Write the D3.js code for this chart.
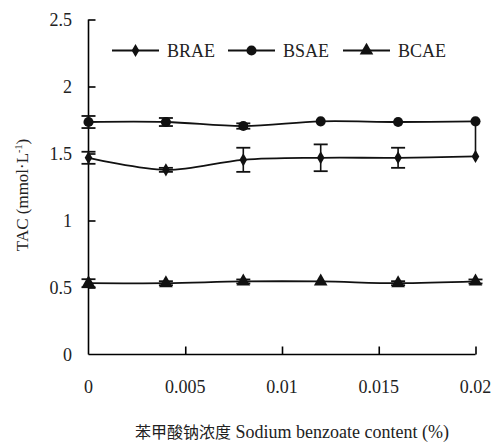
<!DOCTYPE html>
<html><head><meta charset="utf-8">
<script src="https://cdn.jsdelivr.net/npm/d3@7"></script>
<style>body{margin:0;background:#fff}svg{display:block}
.serif{font-family:"Liberation Serif","DejaVu Serif","Times New Roman",serif}
.cjk{font-family:"Noto Sans CJK SC",sans-serif}
</style>
</head><body>
<svg id="c" width="494" height="443"></svg>
<script>
const xValues = [0, 0.004, 0.008, 0.012, 0.016, 0.02];
const seriesNames = ["BRAE", "BSAE", "BCAE"];
const braeValues = [1.468, 1.378, 1.453, 1.468, 1.468, 1.478];
const braeErrUp   = [0.045, 0.015, 0.09, 0.10, 0.075, 0.26];
const braeErrDown = [0.045, 0.015, 0.09, 0.10, 0.075, 0.01];
const bsaeValues = [1.735, 1.735, 1.705, 1.74, 1.735, 1.74];
const bsaeErr    = [0.045, 0.03, 0.02, 0.01, 0.01, 0.01];
const bcaeValues = [0.532, 0.532, 0.545, 0.545, 0.532, 0.545];
const bcaeErr    = [0.03, 0.015, 0.015, 0.005, 0.015, 0.015];
const xTicks = [0, 0.005, 0.01, 0.015, 0.02];
const xTickLabels = ["0", "0.005", "0.01", "0.015", "0.02"];
const yTicks = [0, 0.5, 1, 1.5, 2, 2.5];
const yTickLabels = ["0", "0.5", "1", "1.5", "2", "2.5"];

const svg = d3.select("#c");
const x = d3.scaleLinear().domain([0, 0.02]).range([88.5, 475.5]);
const y = d3.scaleLinear().domain([0, 2.5]).range([354.5, 19.5]);

// axes
const xAxis = d3.axisBottom(x).tickValues(xTicks).tickSize(-8).tickFormat(() => "");
const gx = svg.append("g").attr("transform", "translate(0,354.5)").call(xAxis);
gx.select(".domain").attr("d", `M${x(0)},0H${x(0.02)}`).attr("stroke-width", 1.6);
gx.selectAll(".tick line").attr("stroke-width", 1.6);
gx.selectAll(".tick").filter(d => d === 0).remove();

const yAxis = d3.axisLeft(y).tickValues(yTicks).tickSize(-7).tickFormat(() => "");
const gy = svg.append("g").attr("transform", "translate(88.5,0)").call(yAxis);
gy.select(".domain").attr("d", `M0,${y(2.5)}V${y(0)}`).attr("stroke-width", 1.6);
gy.selectAll(".tick line").attr("stroke-width", 1.6);
gy.selectAll(".tick").filter(d => d === 0).select("line").remove();

// tick labels
svg.append("g").selectAll("text").data(xTicks).join("text").attr("class", "serif")
  .attr("x", d => x(d)).attr("y", 393).attr("text-anchor", "middle")
  .attr("font-size", 18).attr("fill", "#222")
  .text((d, i) => xTickLabels[i]);
svg.append("g").selectAll("text").data(yTicks).join("text").attr("class", "serif")
  .attr("x", 72).attr("y", d => y(d) + 6).attr("text-anchor", "end")
  .attr("font-size", 18).attr("fill", "#222")
  .text((d, i) => yTickLabels[i]);

// axis titles
const yl = svg.append("text").attr("class", "serif").attr("transform", "translate(28,195) rotate(-90)")
  .attr("text-anchor", "middle").attr("font-size", 17).attr("fill", "#222");
yl.append("tspan").text("TAC (mmol·L");
yl.append("tspan").attr("font-size", 10).attr("dy", -6).text("-1");
yl.append("tspan").attr("dy", 6).text(")");

const xl = svg.append("text").attr("x", 292).attr("y", 438).attr("text-anchor", "middle")
  .attr("font-size", 18).attr("fill", "#222");
xl.append("tspan").attr("class", "cjk").attr("font-size", 16).text("苯甲酸钠浓度");
xl.append("tspan").attr("class", "serif").text(" Sodium benzoate content (%)");

// series
const series = [
  {name: "BRAE", vals: braeValues, up: braeErrUp, dn: braeErrDown, sym: d3.symbolDiamond, size: 50},
  {name: "BSAE", vals: bsaeValues, up: bsaeErr, dn: bsaeErr, sym: d3.symbolCircle, size: 80},
  {name: "BCAE", vals: bcaeValues, up: bcaeErr, dn: bcaeErr, sym: d3.symbolTriangle, size: 80}
];
const line = d3.line().x(d => x(d[0])).y(d => y(d[1])).curve(d3.curveCatmullRom.alpha(0.5));

series.forEach(s => {
  const pts = xValues.map((xv, i) => [xv, s.vals[i], s.up[i], s.dn[i]]);
  const g = svg.append("g");
  g.append("path").datum(pts).attr("d", line).attr("fill", "none").attr("stroke", "#111").attr("stroke-width", 1.8);
  const eb = g.selectAll(".eb").data(pts).join("g");
  eb.append("line").attr("x1", d => x(d[0])).attr("x2", d => x(d[0]))
    .attr("y1", d => y(d[1] + d[2])).attr("y2", d => y(d[1] - d[3])).attr("stroke", "#111").attr("stroke-width", 1.6);
  eb.filter(d => d[2] > 0.012 && d[2] < 0.2).append("line").attr("x1", d => x(d[0]) - 7).attr("x2", d => x(d[0]) + 7)
    .attr("y1", d => y(d[1] + d[2])).attr("y2", d => y(d[1] + d[2])).attr("stroke", "#111").attr("stroke-width", 1.8);
  eb.filter(d => d[3] > 0.012).append("line").attr("x1", d => x(d[0]) - 7).attr("x2", d => x(d[0]) + 7)
    .attr("y1", d => y(d[1] - d[3])).attr("y2", d => y(d[1] - d[3])).attr("stroke", "#111").attr("stroke-width", 1.8);
  g.selectAll(".m").data(pts).join("path")
    .attr("transform", d => `translate(${x(d[0])},${y(d[1])})`)
    .attr("d", d3.symbol().type(s.sym).size(s.size)).attr("fill", "#111");
});

// legend
const legendX = [112, 228, 343];
const lg = svg.append("g");
series.forEach((s, i) => {
  const lx = legendX[i], ly = 50.5;
  lg.append("line").attr("x1", lx).attr("x2", lx + 47).attr("y1", ly).attr("y2", ly).attr("stroke", "#111").attr("stroke-width", 1.8);
  lg.append("path").attr("transform", `translate(${lx + 23.5},${ly})`).attr("d", d3.symbol().type(s.sym).size(s.size)).attr("fill", "#111");
  lg.append("text").attr("class", "serif").attr("x", lx + 55).attr("y", ly + 6).attr("font-size", 18).attr("fill", "#222").text(seriesNames[i]);
});
</script>
</body></html>
